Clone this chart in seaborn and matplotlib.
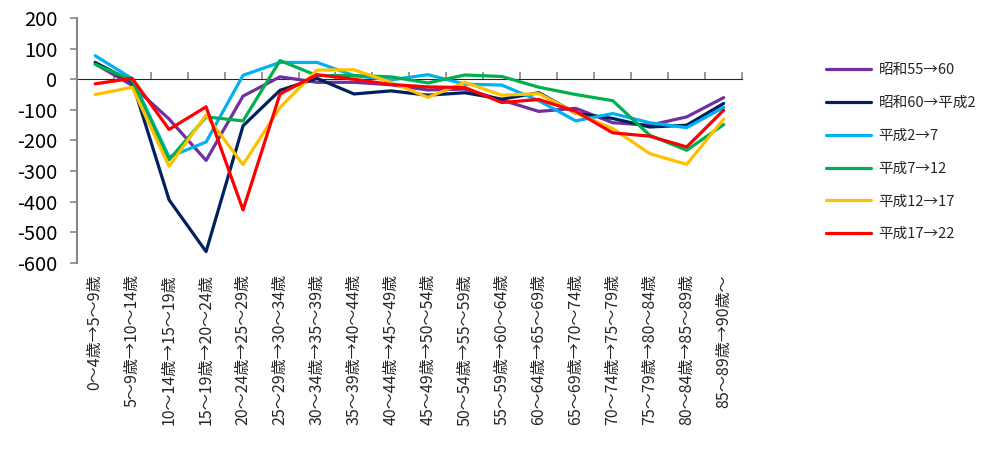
import matplotlib
matplotlib.use("Agg")
import matplotlib.pyplot as plt
import seaborn as sns
import numpy as np
import pandas as pd

# age groups (cohort moving from one bracket to the next)
categories = [
    "0〜4歳→5〜9歳", "5〜9歳→10〜14歳", "10〜14歳→15〜19歳", "15〜19歳→20〜24歳",
    "20〜24歳→25〜29歳", "25〜29歳→30〜34歳", "30〜34歳→35〜39歳", "35〜39歳→40〜44歳",
    "40〜44歳→45〜49歳", "45〜49歳→50〜54歳", "50〜54歳→55〜59歳", "55〜59歳→60〜64歳",
    "60〜64歳→65〜69歳", "65〜69歳→70〜74歳", "70〜74歳→75〜79歳", "75〜79歳→80〜84歳",
    "80〜84歳→85〜89歳", "85〜89歳→90歳〜",
]

series_names = ["昭和55→60", "昭和60→平成2", "平成2→7", "平成7→12", "平成12→17", "平成17→22"]

s55_60 = [50, -20, -130, -265, -55, 8, -10, -10, -18, -35, -32, -68, -105, -95, -142, -150, -123, -60]
s60_h2 = [55, -8, -394, -563, -152, -36, 3, -48, -38, -52, -44, -65, -44, -111, -128, -156, -150, -79]
h2_7 = [77, 2, -254, -205, 13, 55, 55, 12, -2, 15, -16, -19, -70, -136, -112, -142, -158, -92]
h7_12 = [49, -3, -263, -123, -136, 61, 12, 12, 8, -12, 14, 9, -26, -50, -70, -183, -232, -148]
h12_17 = [-50, -26, -284, -117, -279, -92, 30, 31, -10, -59, -10, -52, -47, -110, -161, -243, -278, -130]
h17_22 = [-15, 3, -164, -90, -427, -48, 15, 0, -17, -25, -27, -76, -66, -105, -175, -186, -221, -101]

colors = ["#7030A0", "#002060", "#00B0F0", "#00B050", "#FFC000", "#FF0000"]

all_values = [s55_60, s60_h2, h2_7, h7_12, h12_17, h17_22]
pos = np.arange(len(categories))
df = pd.concat(
    [pd.DataFrame({"pos": pos, "value": v, "series": name}) for name, v in zip(series_names, all_values)],
    ignore_index=True,
)

sns.set_style("white")
plt.rcParams["font.family"] = ["Noto Sans CJK JP", "DejaVu Sans"]
plt.rcParams["axes.unicode_minus"] = False

fig = plt.figure(figsize=(9.83, 4.51), dpi=100)
ax = fig.add_axes([0.078, 0.417, 0.677, 0.543])

sns.lineplot(data=df, x="pos", y="value", hue="series", palette=colors,
             hue_order=series_names, linewidth=2.3, sort=False, ax=ax)

axis_gray = "#868686"
ax.set_xlim(-0.5, len(categories) - 0.5)
ax.set_ylim(-600, 200)
ax.set_yticks(np.arange(-600, 201, 100))
ax.tick_params(axis="y", labelsize=14.5, colors=axis_gray, labelcolor="black",
               direction="out", length=5, width=1.2, pad=9, left=True)
ax.set_xticks(pos)
ax.set_xticklabels(categories, rotation=90, fontsize=11.5, va="top", ha="center")
ax.tick_params(axis="x", length=0, pad=8)
ax.set_xlabel("")
ax.set_ylabel("")

for side in ["top", "right", "bottom"]:
    ax.spines[side].set_visible(False)
ax.spines["left"].set_color(axis_gray)
ax.spines["left"].set_linewidth(1.5)

# category axis drawn at zero with ticks between groups
zero_ax = ax.secondary_xaxis(0.75)
zero_ax.set_xticks(pos[:-1] + 0.5)
zero_ax.set_xticks([pos[-1] + 0.5], minor=True)
zero_ax.tick_params(which="both", direction="out", length=5, width=1.2, colors=axis_gray, labelbottom=False)
zero_ax.spines["bottom"].set_color(axis_gray)
zero_ax.spines["bottom"].set_linewidth(1.5)
zero_ax.set_xticklabels([])

ax.legend(loc="upper left", bbox_to_anchor=(0.827, 0.889), bbox_transform=fig.transFigure,
          frameon=False, fontsize=10.5, labelspacing=1.29, handlelength=3.1, handletextpad=0.5)

fig.savefig("out.png", dpi=100)
